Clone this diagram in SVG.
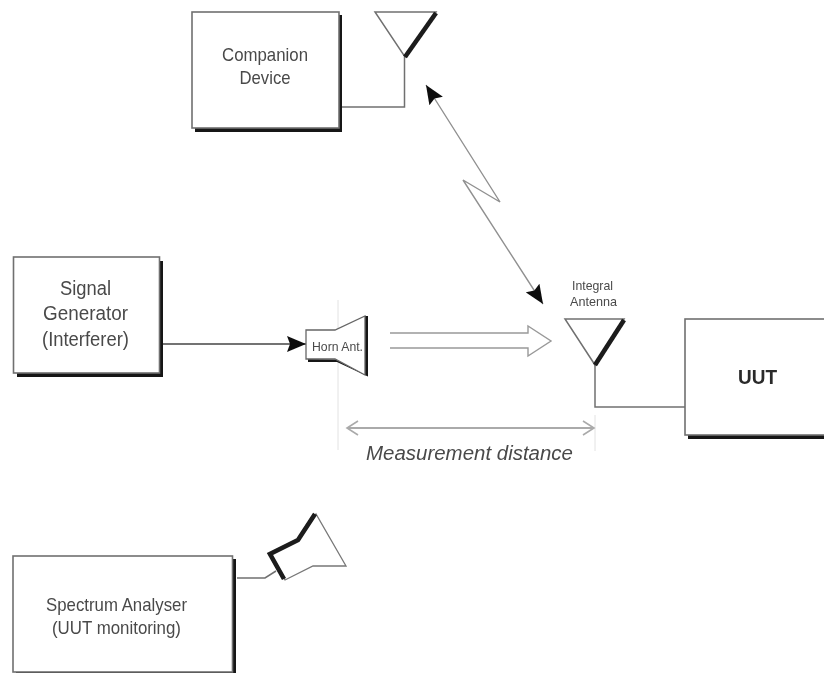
<svg xmlns="http://www.w3.org/2000/svg" width="824" height="673" viewBox="0 0 824 673">
<defs>
<filter id="soft" x="-1%" y="-1%" width="102%" height="102%"><feGaussianBlur stdDeviation="0.4"/></filter>
<marker id="solid" markerUnits="userSpaceOnUse" markerWidth="20" markerHeight="18" refX="19" refY="9" orient="auto-start-reverse"><path d="M0,1 L19,9 L0,17 L3,9 Z" fill="#111"/></marker>
<marker id="open" markerUnits="userSpaceOnUse" markerWidth="16" markerHeight="18" refX="13" refY="9" orient="auto-start-reverse"><path d="M2,2 L13,9 L2,16" fill="none" stroke="#aaa" stroke-width="1.6"/></marker>
</defs>
<style>
text{font-family:"Liberation Sans",Arial,sans-serif;fill:#4a4a4a;text-anchor:middle}
.box{fill:#fff;stroke:#707070;stroke-width:1.6}
.sh{fill:#151515}
.ln{fill:none;stroke:#707070;stroke-width:1.5}
.thick{fill:none;stroke:#1a1a1a;stroke-width:4.6}
</style>
<rect width="824" height="673" fill="#fff"/>
<g filter="url(#soft)">
<g id="connectors">
<path class="ln" d="M342,107 H404.500 V57"/>
<path class="ln" d="M595,365 V407 H686"/>
<path d="M163,344 H306" fill="none" stroke="#444" stroke-width="1.5" marker-end="url(#solid)"/>
<path class="ln" d="M237,578 H265 L276,571"/>
<path d="M426,85 L500,202 L463,180 L543,304" fill="none" stroke="#909090" stroke-width="1.4" marker-start="url(#solid)" marker-end="url(#solid)"/>
<path d="M338,300 V450 M595,415 V451" fill="none" stroke="#e2e2e2" stroke-width="1"/>
<path d="M347,428 H594" fill="none" stroke="#aaa" stroke-width="1.8" marker-start="url(#open)" marker-end="url(#open)"/>
<path d="M390,333 H528 V326 L551,341 L528,356 V348 H390" fill="none" stroke="#999" stroke-width="1.4"/>
</g>
<g id="companion-device">
<rect class="sh" x="195" y="15" width="147" height="117"/>
<rect class="box" x="192" y="12" width="147" height="116"/>
<text x="265" y="61" font-size="19" textLength="86" lengthAdjust="spacingAndGlyphs">Companion</text>
<text x="265" y="84" font-size="19" textLength="51" lengthAdjust="spacingAndGlyphs">Device</text>
</g>
<g id="companion-antenna">
<path class="ln" d="M375,12 H436 L405,57 Z" style="fill:#fff"/>
<path class="thick" d="M436,13 L405,57"/>
</g>
<g id="signal-generator">
<rect class="sh" x="17" y="261" width="146" height="116"/>
<rect class="box" x="13.500" y="257" width="146" height="116"/>
<text x="85.500" y="295" font-size="20" textLength="51" lengthAdjust="spacingAndGlyphs">Signal</text>
<text x="85.500" y="320" font-size="20" textLength="85" lengthAdjust="spacingAndGlyphs">Generator</text>
<text x="85.500" y="346" font-size="20" textLength="87" lengthAdjust="spacingAndGlyphs">(Interferer)</text>
</g>
<g id="horn-antenna">
<path class="sh" d="M308,359 V362 H337 L368,376.500 V316 H364 V360 Z"/>
<path d="M306,330 H335 L365,316 V375 L335,359 H306 Z" fill="#fff" stroke="#666" stroke-width="1.3"/>
<text x="337.500" y="351" font-size="13" textLength="51" lengthAdjust="spacingAndGlyphs">Horn Ant.</text>
</g>
<g id="integral-antenna">
<text x="592.500" y="290" font-size="13" textLength="41" lengthAdjust="spacingAndGlyphs">Integral</text>
<text x="593.500" y="306" font-size="13" textLength="47" lengthAdjust="spacingAndGlyphs">Antenna</text>
<path class="ln" d="M565,319 H624 L595,365 Z"/>
<path class="thick" d="M624,320 L595,365"/>
</g>
<g id="uut">
<rect class="sh" x="688" y="323" width="136" height="116"/>
<rect class="box" x="685" y="319" width="142" height="116"/>
<text x="757.500" y="384" font-size="21" font-weight="bold" textLength="39" lengthAdjust="spacingAndGlyphs" style="fill:#2a2a2a">UUT</text>
</g>
<text x="469.500" y="460" font-size="19.500" font-style="italic" textLength="207" lengthAdjust="spacingAndGlyphs">Measurement distance</text>
<g id="spectrum-analyser">
<rect class="sh" x="16" y="559" width="220" height="114"/>
<rect class="box" x="13" y="556" width="219.500" height="116"/>
<text x="116.500" y="611" font-size="19" textLength="141" lengthAdjust="spacingAndGlyphs">Spectrum Analyser</text>
<text x="116.500" y="634" font-size="19" textLength="129" lengthAdjust="spacingAndGlyphs">(UUT monitoring)</text>
</g>
<g id="monitor-antenna">
<path d="M270,554 L285,580 L313,566 H346 L316,514 L298,540 Z" fill="#fff" stroke="#777" stroke-width="1.3"/>
<path class="thick" d="M315,514 L298,540 L270,554 L284,579"/>
</g>
</g>
</svg>
